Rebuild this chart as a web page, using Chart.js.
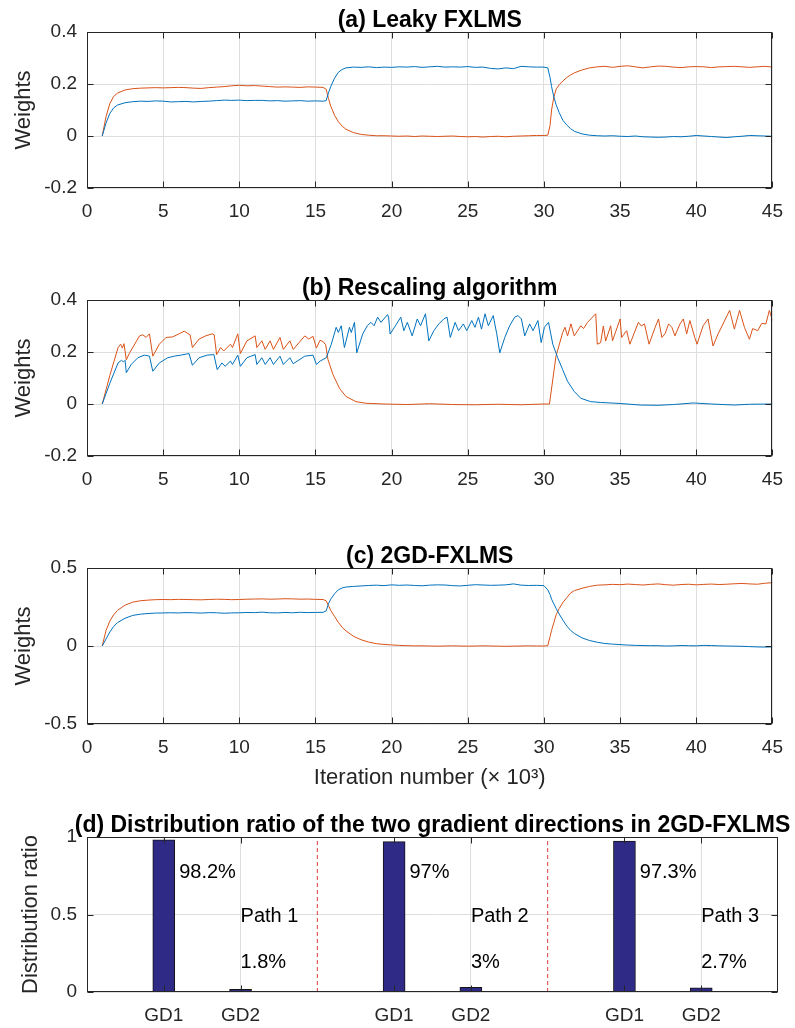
<!DOCTYPE html>
<html>
<head>
<meta charset="utf-8">
<title>Weights and distribution ratio</title>
<script src="https://cdn.jsdelivr.net/npm/chart.js@4.4.1/dist/chart.umd.min.js"></script>
<style>
    body { margin: 0; background: #ffffff; }
    #page { position: relative; width: 795px; height: 1028px; overflow: hidden; }
    canvas { position: absolute; left: 0; }
</style>
</head>
<body>
<div id="page">
    <canvas id="chart_a" width="795" height="233" style="top:0px"></canvas>
    <canvas id="chart_b" width="795" height="239" style="top:262px"></canvas>
    <canvas id="chart_c" width="795" height="262" style="top:530px"></canvas>
    <canvas id="chart_d" width="795" height="231" style="top:797px"></canvas>
</div>
<script>
// iteration number (x 10^3), shared by panels (a) and (c)
const x_grid = [
    1, 1.25, 1.5, 1.75, 2,
    2.5, 3, 3.5, 4, 4.5, 5, 5.5, 6, 6.5, 7, 7.5, 8, 8.5, 9, 9.5, 10, 10.5, 11, 11.5, 12, 12.5, 13, 13.5, 14, 14.5, 15, 15.5,
    15.7, 15.85, 16, 16.25, 16.5, 16.75, 17,
    17.5, 18, 18.5, 19, 19.5, 20, 20.5, 21, 21.5, 22, 22.5, 23, 23.5, 24, 24.5, 25, 25.5, 26, 26.5, 27, 27.5, 28, 28.5, 29, 29.5, 30,
    30.25, 30.4, 30.5, 30.65, 30.8, 31, 31.25, 31.5, 31.75, 32,
    32.5, 33, 33.5, 34, 34.5, 35, 35.5, 36, 36.5, 37, 37.5, 38, 38.5, 39, 39.5, 40, 40.5, 41, 41.5, 42, 42.5, 43, 43.5, 44, 44.5, 45
];

// (a) Leaky FXLMS
const leaky_w1 = [
    0, 0.05, 0.087, 0.108, 0.119,
    0.128, 0.132, 0.134, 0.133, 0.135, 0.134, 0.131, 0.132, 0.133, 0.131, 0.133, 0.134, 0.136, 0.138, 0.137, 0.138, 0.136, 0.137, 0.137, 0.135, 0.136, 0.134, 0.135, 0.136, 0.134, 0.135, 0.134,
    0.136, 0.165, 0.19, 0.222, 0.245, 0.256, 0.262,
    0.265, 0.264, 0.266, 0.263, 0.265, 0.264, 0.266, 0.265, 0.267, 0.264, 0.266, 0.268, 0.265, 0.266, 0.265, 0.267, 0.264, 0.265, 0.26, 0.258, 0.262, 0.259, 0.268, 0.266, 0.265, 0.265,
    0.262, 0.225, 0.19, 0.15, 0.12, 0.09, 0.06, 0.042, 0.028, 0.018,
    0.008, 0.003, 0.001, 0, 0.001, -0.001, -0.002, 0, -0.003, -0.004, -0.005, -0.004, -0.002, -0.003, -0.001, 0.002, 0, -0.002, -0.004, -0.006, -0.003, -0.001, 0.002, 0.001, 0, -0.001
];
const leaky_w2 = [
    0, 0.075, 0.125, 0.152, 0.165,
    0.177, 0.182, 0.184, 0.185, 0.186, 0.185, 0.186, 0.187, 0.186, 0.184, 0.183, 0.186, 0.188, 0.19, 0.193, 0.195, 0.193, 0.194, 0.192, 0.19, 0.188, 0.189, 0.188, 0.187, 0.189, 0.188, 0.187,
    0.18, 0.145, 0.115, 0.08, 0.055, 0.038, 0.026,
    0.013, 0.006, 0.003, 0.001, 0.001, 0, -0.001, 0, -0.002, 0, -0.001, -0.002, -0.001, 0, -0.002, -0.003, -0.002, -0.004, -0.002, -0.001, -0.003, -0.001, 0, 0.001, 0.002, 0.002,
    0.003, 0.04, 0.1, 0.15, 0.18, 0.197, 0.212, 0.225, 0.235, 0.243,
    0.254, 0.262, 0.266, 0.268, 0.264, 0.268, 0.27, 0.266, 0.262, 0.266, 0.269, 0.268, 0.265, 0.263, 0.266, 0.267, 0.266, 0.263, 0.266, 0.267, 0.268, 0.266, 0.264, 0.266, 0.268, 0.265
];

// (b) Rescaling algorithm, read at the corners of the saw teeth
const rescale_x1 = [
    1.0, 1.5, 2.04, 2.26, 2.4, 2.5, 2.58, 2.9, 3.34, 3.77,
    4.1, 4.32, 4.75, 5.3, 5.73, 6.16, 6.7, 6.92, 7.36, 7.9,
    8.33, 8.55, 8.86, 9.07, 9.42, 9.55, 9.9, 10.07, 10.5, 11.04,
    11.15, 11.48, 11.7, 12.02, 12.24, 12.67, 12.89, 13.32, 13.54, 14.3,
    14.84, 15.06, 15.3, 15.71, 16.04, 16.36, 16.5, 16.69, 16.9, 17.23,
    17.35, 17.56, 17.71, 18.1, 18.4, 18.64, 18.85, 19.08, 19.3, 19.73,
    19.8, 19.9, 20.25, 20.6, 20.8, 21.03, 21.35, 21.68, 21.9, 22.22,
    22.44, 22.77, 23.1, 23.42, 23.64, 23.85, 24.17, 24.39, 24.71, 24.93,
    25.26, 25.47, 25.7, 25.9, 26.13, 26.35, 26.67, 26.9, 27.1, 27.43,
    27.75, 28.08, 28.3, 28.52, 28.74, 29.06, 29.28, 29.6, 29.82, 30.03,
    30.3, 30.58, 30.9, 31.23, 31.55, 31.99, 32.42, 33.07, 33.72, 35.0,
    36.33, 37.5, 38.5, 39.8, 41, 42.5, 43.5, 45
];
const rescale_w1 = [
    0, 0.08, 0.158, 0.168, 0.162, 0.168, 0.12, 0.152, 0.178, 0.188,
    0.184, 0.126, 0.158, 0.178, 0.184, 0.188, 0.194, 0.149, 0.178, 0.188,
    0.19, 0.132, 0.158, 0.145, 0.165, 0.152, 0.188, 0.145, 0.178, 0.19,
    0.152, 0.178, 0.152, 0.178, 0.152, 0.184, 0.152, 0.178, 0.155, 0.184,
    0.188, 0.152, 0.165, 0.178, 0.23, 0.295, 0.275, 0.301, 0.217, 0.295,
    0.275, 0.314, 0.197, 0.269, 0.301, 0.314, 0.301, 0.334, 0.314, 0.344,
    0.334, 0.269, 0.301, 0.334, 0.282, 0.314, 0.262, 0.327, 0.301, 0.347,
    0.243, 0.282, 0.308, 0.327, 0.334, 0.256, 0.314, 0.282, 0.308, 0.282,
    0.321, 0.295, 0.334, 0.288, 0.347, 0.301, 0.34, 0.27, 0.197, 0.256,
    0.301, 0.334, 0.34, 0.327, 0.262, 0.308, 0.282, 0.321, 0.236, 0.295,
    0.314, 0.23, 0.178, 0.132, 0.087, 0.048, 0.022, 0.009, 0.006, 0.002,
    -0.004, -0.005, -0.002, 0.004, 0, -0.004, -0.001, 0
];
const rescale_x2 = [
    1.0, 1.5, 2.04, 2.21, 2.32, 2.43, 2.58, 2.8, 3.45, 3.67,
    3.88, 4.1, 4.32, 4.75, 5.19, 5.62, 6.05, 6.38, 6.77, 6.92,
    7.36, 7.79, 8.22, 8.35, 8.51, 8.77, 8.98, 9.42, 9.55, 9.9,
    10.07, 10.5, 11.04, 11.15, 11.48, 11.7, 12.02, 12.24, 12.67, 12.89,
    13.32, 13.54, 14.3, 14.55, 14.84, 15.06, 15.3, 15.5, 15.67, 15.82,
    16.15, 16.58, 17.0, 17.66, 18.3, 19.5, 21, 22.5, 24, 25.5,
    27, 28.5, 30.0, 30.36, 30.79, 31.23, 31.38, 31.55, 31.77, 31.99,
    32.42, 32.6, 32.86, 33.4, 33.5, 33.72, 33.9, 34.05, 34.38, 34.5,
    35.0, 35.1, 35.43, 35.64, 36.2, 36.4, 36.6, 36.9, 37.3, 37.52,
    37.74, 37.95, 38.18, 38.4, 38.6, 38.93, 39.15, 39.37, 39.58, 39.9,
    40.05, 40.45, 40.77, 41.1, 41.43, 42.19, 42.5, 42.84, 43.16, 43.49,
    43.7, 44.03, 44.3, 44.57, 44.8, 45.0
];
const rescale_w2 = [
    0, 0.11, 0.217, 0.23, 0.215, 0.232, 0.17, 0.197, 0.262, 0.266,
    0.256, 0.27, 0.184, 0.23, 0.256, 0.258, 0.27, 0.28, 0.266, 0.217,
    0.25, 0.262, 0.27, 0.266, 0.19, 0.217, 0.204, 0.23, 0.217, 0.27,
    0.194, 0.243, 0.262, 0.217, 0.243, 0.21, 0.243, 0.21, 0.256, 0.21,
    0.243, 0.21, 0.262, 0.25, 0.26, 0.215, 0.245, 0.24, 0.228, 0.171,
    0.113, 0.06, 0.029, 0.009, 0.003, 0, -0.002, 0.001, -0.002, -0.003,
    -0.001, -0.003, 0, 0, 0.184, 0.275, 0.295, 0.262, 0.308, 0.262,
    0.301, 0.29, 0.314, 0.347, 0.23, 0.236, 0.3, 0.242, 0.301, 0.243,
    0.327, 0.256, 0.282, 0.23, 0.314, 0.3, 0.308, 0.23, 0.295, 0.327,
    0.256, 0.27, 0.308, 0.295, 0.262, 0.308, 0.327, 0.27, 0.321, 0.256,
    0.23, 0.301, 0.327, 0.223, 0.269, 0.36, 0.288, 0.36, 0.295, 0.249,
    0.29, 0.282, 0.31, 0.308, 0.36, 0.321
];

// (c) 2GD-FXLMS
const gd_w1 = [
    0, 0.045, 0.09, 0.125, 0.15,
    0.178, 0.196, 0.204, 0.208, 0.211, 0.212, 0.213, 0.212, 0.214, 0.213, 0.211, 0.214, 0.213, 0.21, 0.212, 0.213, 0.215, 0.214, 0.217, 0.213, 0.212, 0.215, 0.213, 0.216, 0.214, 0.215, 0.216,
    0.225, 0.27, 0.3, 0.335, 0.36, 0.372, 0.378,
    0.382, 0.385, 0.388, 0.39, 0.387, 0.392, 0.389, 0.391, 0.388, 0.386, 0.39, 0.392, 0.391, 0.387, 0.385, 0.389, 0.393, 0.391, 0.389, 0.39, 0.392, 0.398, 0.39, 0.388, 0.389, 0.387,
    0.36, 0.33, 0.3, 0.27, 0.24, 0.205, 0.165, 0.128, 0.1, 0.08,
    0.052, 0.035, 0.024, 0.016, 0.012, 0.009, 0.006, 0.004, 0.003, 0.002, 0.002, 0, 0.001, 0.003, 0.002, 0.001, 0.004, 0.003, 0.001, 0, -0.001, -0.002, -0.004, -0.006, -0.007, -0.006
];
const gd_w2 = [
    0, 0.1, 0.16, 0.2, 0.228,
    0.262, 0.281, 0.29, 0.294, 0.297, 0.298, 0.297, 0.299, 0.298, 0.297, 0.296, 0.298, 0.3, 0.299, 0.297, 0.298, 0.3, 0.301, 0.302, 0.3, 0.301, 0.303, 0.302, 0.3, 0.301, 0.299, 0.298,
    0.29, 0.26, 0.228, 0.19, 0.152, 0.12, 0.097,
    0.062, 0.04, 0.025, 0.015, 0.01, 0.007, 0.004, 0.002, 0.001, 0.001, 0, -0.001, 0, 0.001, 0, -0.001, 0, 0.001, 0, -0.001, -0.002, -0.001, 0, 0.001, 0, 0,
    0.002, 0.06, 0.1, 0.15, 0.2, 0.24, 0.28, 0.31, 0.34, 0.355,
    0.37, 0.382, 0.39, 0.392, 0.395, 0.393, 0.397, 0.394, 0.391, 0.395, 0.398, 0.393, 0.39, 0.394, 0.396, 0.392, 0.395, 0.397, 0.394, 0.396, 0.399, 0.401, 0.398, 0.396, 0.402, 0.406
];

// (d) distribution ratio per path
const path_names = ['Path 1', 'Path 2', 'Path 3'];
const direction_names = ['GD1', 'GD2'];
const ratio_gd1 = [0.982, 0.970, 0.973];
const ratio_gd2 = [0.018, 0.030, 0.027];
const bar_positions = [1, 2, 4, 5, 7, 8];
const path_dividers = [3, 6];

const font_family = "'Liberation Sans', Arial, sans-serif";
const text_color = '#262626';
const grid_color = '#dedede';
const blue = '#0072BD';
const orange = '#D95319';

Chart.defaults.font.family = font_family;
Chart.defaults.color = text_color;

function to_points(xs, ys) {
    return xs.map((x, i) => ({ x: x, y: ys[i] }));
}

function format_tick(value) {
    return String(Math.round(value * 100) / 100);
}

function fixed_ticks(values) {
    return function (scale) {
        scale.ticks = values.map(v => ({ value: v }));
    };
}

// box, inward tick marks, bold title and free text like MATLAB axes
const matlab_axes = {
    id: 'matlab_axes',
    afterDraw(chart, args, opts) {
        const ctx = chart.ctx;
        const area = chart.chartArea;
        const x_scale = chart.scales.x;
        const y_scale = chart.scales.y;
        const left = Math.round(area.left) + 0.5;
        const right = Math.round(area.right) - 0.5;
        const top = Math.round(area.top) + 0.5;
        const bottom = Math.round(area.bottom) - 0.5;
        ctx.save();
        ctx.strokeStyle = text_color;
        ctx.lineWidth = 1;
        ctx.beginPath();
        x_scale.ticks.forEach(t => {
            let px = Math.round(x_scale.getPixelForValue(t.value)) + 0.5;
            ctx.moveTo(px, bottom);
            ctx.lineTo(px, bottom - 6);
            ctx.moveTo(px, top);
            ctx.lineTo(px, top + 6);
        });
        y_scale.ticks.forEach(t => {
            let py = Math.round(y_scale.getPixelForValue(t.value)) + 0.5;
            ctx.moveTo(left, py);
            ctx.lineTo(left + 6, py);
            ctx.moveTo(right, py);
            ctx.lineTo(right - 6, py);
        });
        ctx.stroke();
        ctx.strokeRect(left, top, right - left, bottom - top);

        ctx.fillStyle = '#000000';
        ctx.font = 'bold 23px ' + font_family;
        ctx.textAlign = 'center';
        ctx.textBaseline = 'alphabetic';
        ctx.fillText(opts.title, (area.left + area.right) / 2, area.top - 5);

        ctx.font = '20px ' + font_family;
        ctx.textAlign = 'left';
        ctx.textBaseline = 'middle';
        (opts.notes || []).forEach(n => {
            ctx.fillText(n.text, x_scale.getPixelForValue(n.x), y_scale.getPixelForValue(n.y));
        });
        ctx.restore();
    }
};

function y_axis(ticks, title, title_pad) {
    return {
        type: 'linear',
        min: ticks[0],
        max: ticks[ticks.length - 1],
        afterBuildTicks: fixed_ticks(ticks),
        afterFit: scale => { scale.width = 87; },
        grid: { color: grid_color, drawTicks: false },
        border: { display: false },
        ticks: { padding: 10, font: { size: 19 }, color: text_color, callback: v => format_tick(v) },
        title: { display: true, text: title, color: text_color, font: { size: 22 }, padding: { top: title_pad, bottom: 0 } }
    };
}

function x_axis(min, max, ticks, height, label_of, title) {
    return {
        type: 'linear',
        min: min,
        max: max,
        offset: false,
        afterBuildTicks: fixed_ticks(ticks),
        afterFit: scale => { scale.height = height; },
        grid: { color: grid_color, drawTicks: false, offset: false },
        border: { display: false },
        ticks: { padding: 12, font: { size: 19 }, color: text_color, maxRotation: 0, autoSkip: false, callback: label_of },
        title: title ? { display: true, text: title, color: text_color, font: { size: 22 }, padding: { top: 0, bottom: 1 } } : { display: false }
    };
}

const iteration_ticks = [0, 5, 10, 15, 20, 25, 30, 35, 40, 45];

function weight_chart(canvas_id, title, y_ticks, series, pad_top, x_height, x_title) {
    let datasets = series.map(s => ({
        data: to_points(s.x, s.y),
        borderColor: s.color,
        borderWidth: 1,
        pointRadius: 0,
        tension: 0
    }));
    return new Chart(document.getElementById(canvas_id), {
        type: 'line',
        data: { datasets: datasets },
        options: {
            responsive: false,
            animation: false,
            layout: { padding: { top: pad_top, right: 17, bottom: 0, left: 0 } },
            plugins: {
                legend: { display: false },
                tooltip: { enabled: false },
                matlab_axes: { title: title }
            },
            scales: {
                x: x_axis(0, 45, iteration_ticks, x_height, v => format_tick(v), x_title),
                y: y_axis(y_ticks, 'Weights', 11)
            }
        },
        plugins: [matlab_axes]
    });
}

weight_chart('chart_a', '(a) Leaky FXLMS', [-0.2, 0, 0.2, 0.4], [
    { x: x_grid, y: leaky_w1, color: blue },
    { x: x_grid, y: leaky_w2, color: orange }
], 32, 45);

weight_chart('chart_b', '(b) Rescaling algorithm', [-0.2, 0, 0.2, 0.4], [
    { x: rescale_x1, y: rescale_w1, color: blue },
    { x: rescale_x2, y: rescale_w2, color: orange }
], 38, 45);

weight_chart('chart_c', '(c) 2GD-FXLMS', [-0.5, 0, 0.5], [
    { x: x_grid, y: gd_w1, color: blue },
    { x: x_grid, y: gd_w2, color: orange }
], 38, 68, 'Iteration number (\u00d7 10\u00b3)');

// panel (d): bars of GD1 / GD2 for each path, red dashed dividers between paths
let bar_points = [];
let bar_labels = [];
let notes = [];
path_names.forEach((name, p) => {
    let pair = [ratio_gd1[p], ratio_gd2[p]];
    pair.forEach((value, d) => {
        let pos = bar_positions[p * 2 + d];
        bar_points.push({ x: pos, y: value });
        bar_labels.push(direction_names[d]);
    });
    let gd1_pos = bar_positions[p * 2];
    let gd2_pos = bar_positions[p * 2 + 1];
    notes.push({ text: +(ratio_gd1[p] * 100).toFixed(1) + '%', x: gd1_pos + 0.2, y: 0.77 });
    notes.push({ text: name, x: gd2_pos, y: 0.49 });
    notes.push({ text: +(ratio_gd2[p] * 100).toFixed(1) + '%', x: gd2_pos, y: 0.19 });
});

let ratio_datasets = [{
    type: 'bar',
    data: bar_points,
    backgroundColor: '#2e2a86',
    borderColor: '#141414',
    borderWidth: 1,
    barThickness: 22
}];
path_dividers.forEach(pos => {
    ratio_datasets.push({
        type: 'line',
        data: [{ x: pos, y: 0 }, { x: pos, y: 1 }],
        borderColor: '#e03a3a',
        borderWidth: 1,
        borderDash: [4, 3],
        pointRadius: 0
    });
});

new Chart(document.getElementById('chart_d'), {
    type: 'line',
    data: { datasets: ratio_datasets },
    options: {
        responsive: false,
        animation: false,
        layout: { padding: { top: 40, right: 17, bottom: 0, left: 0 } },
        plugins: {
            legend: { display: false },
            tooltip: { enabled: false },
            matlab_axes: { title: '(d) Distribution ratio of the two gradient directions in 2GD-FXLMS', notes: notes }
        },
        scales: {
            x: x_axis(0, 9, bar_positions, 36, v => bar_labels[bar_positions.indexOf(v)]),
            y: y_axis([0, 0.5, 1], 'Distribution ratio', 18)
        }
    },
    plugins: [matlab_axes]
});
</script>
</body>
</html>
